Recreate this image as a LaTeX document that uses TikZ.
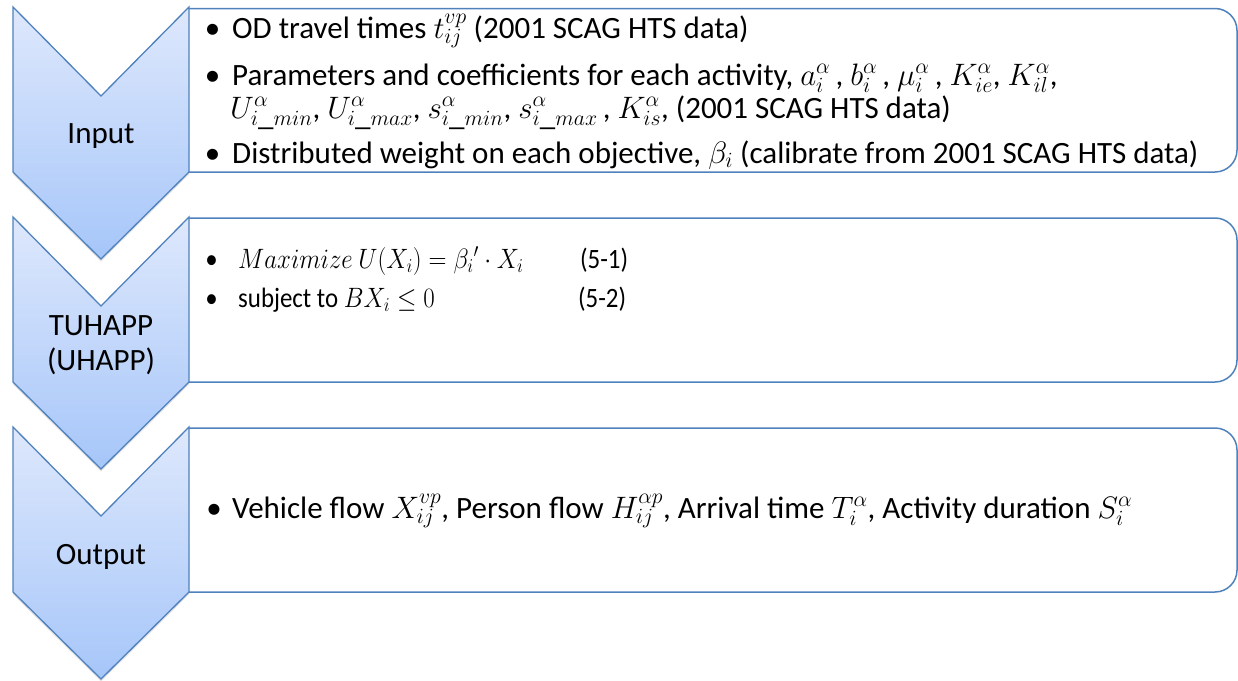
\RequirePackage{fix-cm}
\documentclass[tikz,border=0pt]{standalone}
\usepackage{fontspec}
\setmainfont{Carlito}
\usetikzlibrary{shadows}
\definecolor{cbord}{RGB}{79,129,189}
\definecolor{ctop}{RGB}{222,232,252}
\definecolor{cbot}{RGB}{166,198,249}
\begin{document}
\begin{tikzpicture}[x=1pt,y=-1pt,
  chev/.style={draw=cbord, line width=1.3pt, line join=miter, top color=ctop, bottom color=cbot,
    drop shadow={shadow xshift=0pt, shadow yshift=-2.5pt, opacity=0.22}},
  boxline/.style={draw=cbord, line width=1.5pt, rounded corners=22pt},
  lbl/.style={anchor=base, inner sep=0pt, font=\fontsize{31}{37}\selectfont},
  txt/.style={anchor=base west, inner sep=0pt, font=\fontsize{31}{37}\selectfont},
  bul/.style={anchor=base, inner sep=0pt, font=\fontsize{31}{37}\selectfont},
  txtb/.style={anchor=base west, inner sep=0pt, xscale=0.89, transform shape, font=\fontsize{28}{33}\selectfont},
  bulb/.style={anchor=base, inner sep=0pt, xscale=0.89, transform shape, font=\fontsize{28}{33}\selectfont}]
\useasboundingbox (0,0) rectangle (1238,680);
% text boxes
\draw[boxline] (189,8.5) -- (1237,8.5) -- (1237,172) -- (189,172);
\draw[boxline] (189,218) -- (1237,218) -- (1237,382) -- (189,382);
\draw[boxline] (189,428) -- (1237,428) -- (1237,592) -- (189,592);
% chevrons
\foreach \t in {7,217,427}{
  \path[chev] (13,\t) -- (101,\t+89) -- (189,\t) -- (189,\t+165) -- (101,\t+252) -- (13,\t+165) -- cycle;
}
% chevron labels
\node[lbl] (l1) at (101,143) {Input};
\node[lbl] (l2a) at (101,335) {TUHAPP};
\node[lbl] (l2b) at (101,370) {(UHAPP)};
\node[lbl] (l3) at (101,564) {Output};
% box 1 text
\node[bul] (a1b) at (212.5,38) {\textbullet};
\node[txt] (a1) at (232,38) {OD travel times $t_{ij}^{vp}$ (2001 SCAG HTS data)};
\node[bul] (a2b) at (212.5,85) {\textbullet};
\node[txt] (a2) at (232,85) {Parameters and coefficients for each activity, $a_i^{\alpha}$\,, $b_i^{\alpha}$\,, $\mu_i^{\alpha}$\,, $K_{ie}^{\alpha}$, $K_{il}^{\alpha}$,};
\node[txt] (a3) at (230,118) {$U_{i\_min}^{\alpha}$, $U_{i\_max}^{\alpha}$, $s_{i\_min}^{\alpha}$, $s_{i\_max}^{\alpha}$\,, $K_{is}^{\alpha}$, (2001 SCAG HTS data)};
\node[bul] (a4b) at (212.5,163) {\textbullet};
\node[txt] (a4) at (232,163) {Distributed weight on each objective, $\beta_i$ (calibrate from 2001 SCAG HTS data)};
% box 2 text
\node[bulb] (b1b) at (211.5,268) {\textbullet};
\node[txtb] (b1) at (238,268) {$Maximize\ U(X_i)=\beta_i{}'\cdot X_i$};
\node[txtb] (b1n) at (580,268) {(5-1)};
\node[bulb] (b2b) at (211.5,307) {\textbullet};
\node[txtb] (b2) at (238,307) {subject to $BX_i\leq 0$};
\node[txtb] (b2n) at (578,307) {(5-2)};
% box 3 text
\node[bul] (c1b) at (214,518) {\textbullet};
\node[txt] (c1) at (232,518) {Vehicle flow $X_{ij}^{vp}$, Person flow $H_{ij}^{\alpha p}$, Arrival time $T_i^{\alpha}$, Activity duration $S_i^{\alpha}$};
\end{tikzpicture}
\end{document}
